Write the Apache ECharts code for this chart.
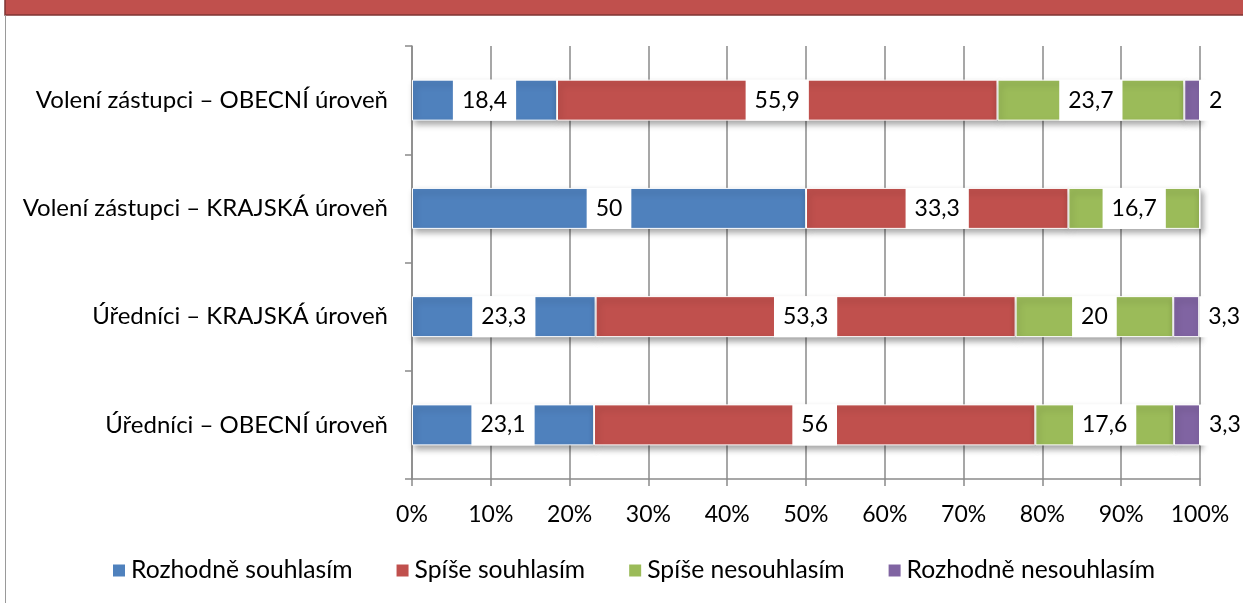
<!DOCTYPE html>
<html>
<head>
<meta charset="utf-8">
<script src="https://cdn.jsdelivr.net/npm/echarts@6/dist/echarts.min.js"></script>
<style>
  html, body { margin: 0; padding: 0; background: #fff; }
  #chart { width: 1243px; height: 603px; }
</style>
</head>
<body>
<div id="chart"></div>
<script>
// Categories, listed top to bottom
const categories = [
  'Volení zástupci – OBECNÍ úroveň',
  'Volení zástupci – KRAJSKÁ úroveň',
  'Úředníci – KRAJSKÁ úroveň',
  'Úředníci – OBECNÍ úroveň'
];

// Answer shares (%) for each category
const seriesNames = ['Rozhodně souhlasím', 'Spíše souhlasím', 'Spíše nesouhlasím', 'Rozhodně nesouhlasím'];
const rozhodneSouhlasim   = [18.4, 50, 23.3, 23.1];
const spiseSouhlasim      = [55.9, 33.3, 53.3, 56];
const spiseNesouhlasim    = [23.7, 16.7, 20, 17.6];
const rozhodneNesouhlasim = [2, 0, 3.3, 3.3];

// Axis tick labels
const xTickLabels = ['0%', '10%', '20%', '30%', '40%', '50%', '60%', '70%', '80%', '90%', '100%'];

const colors = ['#4F81BD', '#C0504D', '#9BBB59', '#8064A2'];
const FONT = 'Lato';
const AXIS_GRAY = '#8a8a8a';

const fmt = v => String(v).replace('.', ',');

const values = [rozhodneSouhlasim, spiseSouhlasim, spiseNesouhlasim, rozhodneNesouhlasim];

const series = values.map((arr, i) => ({
  name: seriesNames[i],
  type: 'bar',
  stack: 'total',
  barWidth: 41,
  itemStyle: {
    color: colors[i],
    borderColor: '#fff',
    borderWidth: 1,
    shadowColor: 'rgba(0,0,0,0.35)',
    shadowBlur: 6,
    shadowOffsetX: 2,
    shadowOffsetY: 4
  },
  label: {
    show: true,
    position: i === 3 ? 'right' : 'inside',
    distance: 0,
    formatter: p => fmt(p.value),
    color: '#000',
    fontFamily: FONT,
    fontSize: 23,
    lineHeight: 23,
    backgroundColor: '#fff',
    padding: [9, 9]
  },
  data: arr.map(v => ({ value: v, label: { show: v > 0 } }))
}));

const chart = echarts.init(document.getElementById('chart'), null, { renderer: 'canvas' });
chart.setOption({
  animation: false,
  backgroundColor: '#fff',
  color: colors,
  graphic: [
    {
      type: 'rect',
      shape: { x: 5, y: -2, width: 1240, height: 17 },
      style: { fill: '#C0504D', stroke: '#7f3533', lineWidth: 1.5 },
      z: 10
    },
    {
      type: 'line',
      shape: { x1: 5.5, y1: 15, x2: 5.5, y2: 603 },
      style: { stroke: '#9a9a9a', lineWidth: 1 },
      z: 10
    }
  ],
  grid: { left: 412, right: 43, top: 46, bottom: 124, containLabel: false },
  legend: {
    left: 111,
    top: 558,
    padding: 0,
    icon: 'rect',
    itemWidth: 14,
    itemHeight: 14,
    itemGap: 42,
    textStyle: { fontFamily: FONT, fontSize: 24.7, color: '#000' },
    data: seriesNames
  },
  xAxis: {
    type: 'value',
    min: 0,
    max: 100,
    interval: 10,
    axisLine: { show: true, lineStyle: { color: AXIS_GRAY, width: 1.5 } },
    axisTick: { show: true, length: 7, lineStyle: { color: AXIS_GRAY, width: 1.5 } },
    splitLine: { show: true, lineStyle: { color: AXIS_GRAY, width: 1.5 } },
    axisLabel: {
      margin: 24,
      fontFamily: FONT,
      fontSize: 23,
      color: '#000',
      formatter: v => xTickLabels[Math.round(v / 10)]
    }
  },
  yAxis: {
    type: 'category',
    inverse: true,
    data: categories,
    axisLine: { show: true, lineStyle: { color: AXIS_GRAY, width: 1.5 } },
    axisTick: { show: true, length: 7, lineStyle: { color: AXIS_GRAY, width: 1.5 } },
    axisLabel: { margin: 24, fontFamily: FONT, fontSize: 24, color: '#000' }
  },
  series
});
</script>
</body>
</html>
